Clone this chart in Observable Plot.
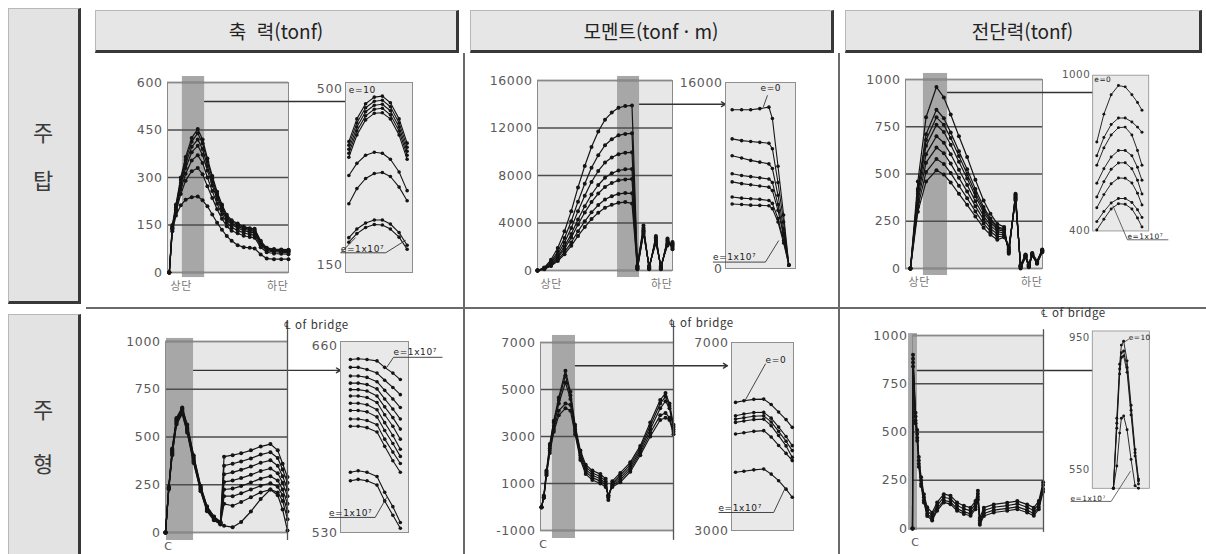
<!DOCTYPE html>
<html lang="ko">
<head>
<meta charset="utf-8">
<script src="https://cdn.jsdelivr.net/npm/d3@7"></script>
<script src="https://cdn.jsdelivr.net/npm/@observablehq/plot@0.6"></script>
<style>
html,body{margin:0;padding:0;background:#fff;}
#root{position:relative;width:1206px;height:554px;overflow:hidden;background:#fff;}
.abs{position:absolute;}
.hdr{position:absolute;top:10px;height:43px;box-sizing:border-box;background:#e6e6e6;border-top:1px solid #b8b8b8;border-left:1px solid #b8b8b8;border-right:3px solid #383838;border-bottom:3px solid #383838;font-family:"Noto Sans CJK KR",sans-serif;font-size:19px;color:#222;text-align:center;line-height:39px;white-space:pre;}
.row{position:absolute;left:8px;width:73px;box-sizing:border-box;background:#e3e3e3;border-top:1px solid #b8b8b8;border-left:1px solid #b8b8b8;border-right:3px solid #383838;border-bottom:3px solid #383838;}
.rl{position:absolute;left:8px;width:70px;text-align:center;font-family:"Noto Sans CJK KR",sans-serif;font-size:22px;color:#3a3a3a;line-height:24px;}
.sep{position:absolute;background:#6a6a6a;}
</style>
</head>
<body>
<div id="root">
  <div class="row" style="top:8px;height:296px;"></div>
  <div class="row" style="top:314px;height:260px;"></div>
  <div class="rl" style="top:119px;">주</div>
  <div class="rl" style="top:167px;">탑</div>
  <div class="rl" style="top:396px;">주</div>
  <div class="rl" style="top:450px;">형</div>
  <div class="hdr" style="left:95px;width:364px;">축  력(tonf)</div>
  <div class="hdr" style="left:470px;width:364px;">모멘트(tonf · m)</div>
  <div class="hdr" style="left:845px;width:357px;">전단력(tonf)</div>
  <div class="sep" style="left:463px;top:53px;width:1.5px;height:501px;"></div>
  <div class="sep" style="left:838px;top:53px;width:1.5px;height:501px;"></div>
  <div class="sep" style="left:86px;top:307px;width:1120px;height:1.5px;"></div>
</div>
<script>
// ======================= DATA =======================
// --- 주탑 / 축력 (tonf) ---
const towerAxialTicks = [0, 150, 300, 450, 600];
const towerAxialX = [1.5, 4, 7, 11, 15, 20, 25, 29, 33, 37, 41, 45, 49, 53, 58, 63, 68, 72, 77, 82, 88, 94, 100];
const towerAxialY = [
  [0, 150, 215, 300, 365, 425, 453, 420, 360, 305, 255, 215, 182, 165, 155, 145, 140, 138, 100, 78, 74, 73, 72],
  [0, 145, 210, 292, 355, 413, 440, 408, 350, 297, 248, 210, 178, 161, 151, 141, 136, 134, 97, 76, 72, 71, 70],
  [0, 142, 205, 283, 343, 397, 420, 390, 336, 286, 240, 203, 172, 156, 146, 137, 132, 130, 94, 74, 70, 69, 68],
  [0, 140, 200, 275, 330, 380, 400, 372, 322, 275, 231, 196, 166, 151, 141, 132, 127, 125, 91, 72, 68, 67, 66],
  [0, 138, 195, 263, 312, 354, 370, 346, 300, 257, 217, 184, 157, 142, 133, 125, 120, 118, 86, 69, 65, 64, 63],
  [0, 135, 190, 248, 290, 320, 330, 310, 272, 235, 200, 170, 146, 132, 124, 116, 112, 110, 80, 64, 60, 59, 58],
  [0, 130, 180, 212, 230, 238, 240, 228, 209, 183, 157, 135, 115, 100, 86, 80, 78, 76, 57, 44, 42, 42, 42]
];
const towerAxialZoomTicks = [150, 500];
const towerAxialZoomX = [5, 17, 30, 43, 55, 67, 80, 92];
const towerAxialZoomY = [
  [395, 440, 470, 483, 485, 472, 440, 392],
  [388, 432, 462, 475, 477, 464, 432, 384],
  [380, 424, 454, 467, 469, 456, 424, 376],
  [372, 416, 446, 459, 461, 448, 416, 368],
  [364, 408, 438, 451, 452, 440, 408, 360],
  [328, 352, 368, 374, 372, 360, 335, 298],
  [272, 302, 322, 332, 334, 326, 305, 278],
  [205, 222, 234, 240, 240, 232, 215, 190],
  [196, 213, 225, 231, 230, 222, 206, 182]
];

// --- 주탑 / 모멘트 (tonf·m) ---
const towerMomentTicks = [0, 4000, 8000, 12000, 16000];
const towerMomentX = [0, 5, 10, 15, 20, 25, 30, 35, 40, 45, 50, 55, 60, 65, 70, 74, 78.5, 82.7, 87.7, 91.4, 96.3, 100];
const towerMomentY = [
  [0, 250, 900, 1900, 3300, 5000, 7000, 8800, 10400, 11700, 12700, 13300, 13700, 13850, 13900, 400, 3800, 100, 2900, 100, 2700, 1800],
  [0, 210, 750, 1580, 2740, 4150, 5800, 7300, 8650, 9700, 10550, 11050, 11380, 11500, 11550, 350, 3600, 150, 2800, 150, 2600, 1900],
  [0, 180, 640, 1360, 2360, 3580, 5000, 6300, 7450, 8380, 9090, 9520, 9800, 9920, 9950, 300, 3500, 200, 2700, 200, 2500, 2000],
  [0, 155, 550, 1170, 2030, 3075, 4300, 5410, 6400, 7200, 7810, 8180, 8420, 8520, 8550, 250, 3400, 250, 2600, 250, 2400, 2100],
  [0, 140, 500, 1050, 1830, 2770, 3880, 4880, 5760, 6480, 7040, 7370, 7590, 7670, 7700, 200, 3300, 300, 2500, 300, 2300, 2200],
  [0, 120, 425, 895, 1555, 2355, 3300, 4145, 4900, 5510, 5980, 6260, 6450, 6520, 6500, 150, 3200, 350, 2400, 350, 2200, 2300],
  [0, 105, 375, 790, 1370, 2080, 2910, 3660, 4330, 4870, 5280, 5530, 5700, 5760, 5650, 100, 3100, 400, 2300, 400, 2100, 2400]
];
const towerMomentZoomTicks = [0, 16000];
const towerMomentZoomX = [9.5, 23, 36, 49, 62, 67, 75, 83, 90.5];
const towerMomentZoomY = [
  [13650, 13650, 13650, 13750, 13880, 12900, 8800, 4600, 300],
  [11150, 11000, 10920, 10850, 10780, 10300, 7400, 4000, 300],
  [9700, 9500, 9300, 9150, 9000, 8600, 6300, 3400, 300],
  [8150, 8000, 7900, 7800, 7700, 7400, 5500, 3000, 300],
  [7450, 7300, 7200, 7100, 7000, 6700, 5000, 2800, 300],
  [6150, 6050, 6000, 5950, 5850, 5600, 4300, 2400, 300],
  [5550, 5500, 5450, 5430, 5400, 5150, 4000, 2200, 300]
];

// --- 주탑 / 전단력 (tonf) ---
const towerShearTicks = [0, 250, 500, 750, 1000];
const towerShearX = [3.6, 9, 15, 22.6, 28, 33, 39, 45, 51, 57, 62, 67, 72, 75.4, 80.3, 84, 87.6, 90, 92.5, 96, 99.8];
const towerShearY = [
  [0, 460, 800, 960, 905, 815, 700, 590, 470, 360, 290, 236, 220, 78, 395, 0, 60, 7, 69, 25, 86],
  [0, 420, 710, 840, 795, 720, 620, 525, 420, 325, 265, 220, 210, 85, 390, 5, 62, 10, 70, 28, 88],
  [0, 410, 680, 800, 760, 690, 595, 500, 400, 312, 255, 214, 205, 90, 385, 8, 64, 12, 72, 30, 90],
  [0, 395, 650, 760, 722, 655, 565, 476, 382, 298, 244, 206, 198, 95, 380, 10, 66, 14, 74, 32, 92],
  [0, 375, 605, 700, 665, 605, 522, 442, 356, 278, 228, 195, 188, 100, 375, 12, 68, 16, 76, 34, 94],
  [0, 350, 560, 640, 610, 555, 480, 407, 330, 259, 212, 182, 180, 105, 370, 14, 70, 18, 78, 36, 96],
  [0, 325, 510, 580, 553, 505, 438, 372, 302, 238, 196, 168, 172, 110, 365, 16, 72, 20, 80, 38, 98],
  [0, 300, 460, 520, 497, 455, 395, 337, 275, 215, 178, 152, 166, 115, 360, 18, 74, 22, 82, 40, 100]
];
const towerShearZoomTicks = [400, 1000];
const towerShearZoomX = [7.4, 20, 33, 46, 58, 70, 80, 88];
const towerShearZoomY = [
  [743, 850, 925, 960, 955, 925, 895, 865],
  [690, 760, 810, 835, 835, 820, 800, 780],
  [653, 720, 770, 798, 800, 770, 710, 653],
  [584, 640, 685, 710, 710, 690, 645, 595],
  [531, 590, 638, 662, 663, 640, 595, 542],
  [489, 540, 582, 604, 603, 585, 545, 500],
  [436, 475, 508, 525, 525, 510, 482, 452],
  [404, 445, 485, 505, 503, 485, 450, 415]
];

// --- 주형 / 축력 (tonf) ---
const girderAxialTicks = [0, 250, 500, 750, 1000];
const girderAxialX = [0, 2.7, 5.5, 9, 13.7, 17.8, 23, 28.8, 34, 39.7, 45, 48, 55, 62, 70, 78, 86, 92, 96, 100];
const girderAxialY = [
  [0, 240, 440, 600, 655, 565, 405, 245, 138, 84, 56, 397, 405, 415, 430, 450, 463, 430, 360, 290],
  [0, 238, 435, 595, 650, 558, 400, 240, 135, 82, 54, 350, 360, 372, 388, 408, 420, 390, 330, 260],
  [0, 236, 430, 590, 645, 552, 394, 236, 131, 79, 52, 305, 315, 328, 345, 365, 378, 350, 295, 225],
  [0, 234, 425, 585, 640, 546, 388, 232, 127, 76, 50, 265, 272, 285, 302, 322, 335, 310, 260, 190],
  [0, 232, 420, 580, 635, 540, 382, 228, 123, 73, 48, 225, 230, 243, 262, 282, 295, 272, 225, 150],
  [0, 230, 415, 575, 630, 534, 376, 224, 119, 70, 46, 190, 190, 205, 225, 245, 258, 240, 195, 110],
  [0, 228, 410, 570, 625, 528, 370, 220, 115, 67, 44, 150, 140, 160, 185, 210, 225, 210, 165, 70],
  [0, 226, 405, 565, 620, 522, 364, 216, 111, 64, 42, 35, 28, 55, 110, 175, 225, 195, 120, 10]
];
const girderAxialZoomTicks = [530, 660];
const girderAxialZoomX = [14.6, 26, 39, 53.7, 65, 77, 88];
const girderAxialZoomY = [
  [650.5, 651, 650.5, 649.5, 645, 641, 636.5],
  [645, 645, 643.5, 641, 636, 631, 626],
  [639, 639, 638, 635, 629, 623, 617],
  [634, 634, 633, 630, 623, 616, 609],
  [629.5, 629.5, 628.5, 625, 617.5, 610, 602],
  [625, 625, 624, 620.5, 612, 604, 595],
  [620, 620, 619, 615.5, 606.5, 597.5, 588],
  [615, 615, 614, 610.5, 601, 592, 583],
  [609, 609, 608, 605, 595, 586, 578],
  [604, 604, 603, 600, 590, 580, 572],
  [572, 573, 572, 569, 558, 548, 537],
  [566, 567, 566, 563, 552, 542, 533]
];

// --- 주형 / 모멘트 (tonf·m) ---
const girderMomentTicks = [-1000, 1000, 3000, 5000, 7000];
const girderMomentX = [0.75, 2.5, 4.5, 7, 10, 13.75, 18.75, 22.5, 26, 30, 34, 39, 45, 49, 51, 54, 60, 67.5, 75, 82.5, 90, 94, 97, 100];
const girderMomentY = [
  [-9, 487, 1550, 2680, 3670, 4660, 5800, 4900, 3500, 2400, 1800, 1550, 1400, 1200, 300, 1100, 1450, 1900, 2600, 3600, 4550, 4850, 4400, 3500],
  [-9, 450, 1500, 2600, 3600, 4550, 5600, 4750, 3400, 2300, 1700, 1450, 1300, 1100, 400, 1000, 1350, 1800, 2500, 3450, 4400, 4700, 4300, 3400],
  [-9, 420, 1450, 2500, 3450, 4400, 5300, 4600, 3300, 2200, 1600, 1350, 1200, 1000, 450, 950, 1250, 1700, 2400, 3300, 4200, 4500, 4200, 3300],
  [-9, 400, 1400, 2400, 3300, 4100, 4400, 4350, 3200, 2100, 1500, 1250, 1100, 950, 500, 900, 1150, 1600, 2300, 3150, 3900, 4000, 3800, 3200],
  [-9, 380, 1350, 2300, 3200, 3900, 4200, 4100, 3100, 2000, 1400, 1150, 1000, 850, 500, 850, 1050, 1500, 2200, 3000, 3700, 3800, 3700, 3100]
];
const girderMomentZoomTicks = [3000, 7000];
const girderMomentZoomX = [6.5, 20, 36, 52, 64, 76, 88, 98];
const girderMomentZoomY = [
  [5726, 5760, 5790, 5796, 5680, 5520, 5360, 5195],
  [5440, 5480, 5510, 5513, 5390, 5200, 5000, 4805],
  [5370, 5400, 5430, 5440, 5310, 5110, 4900, 4700],
  [5300, 5330, 5360, 5370, 5230, 5020, 4800, 4560],
  [5053, 5080, 5110, 5124, 4990, 4810, 4640, 4487],
  [4239, 4260, 4290, 4310, 4200, 4060, 3880, 3708]
];

// --- 주형 / 전단력 (tonf) ---
const girderShearTicks = [0, 250, 500, 750, 1000];
const girderShearX = [0, 0.4, 2.3, 3.6, 4.8, 6.6, 8.7, 11.2, 15, 18.8, 23.9, 29, 34, 39.2, 44.3, 48.1, 49.9, 51.4, 54.5, 62, 72.3, 80, 87.5, 92.6, 96.4, 99.7];
const girderShearY = [
  [0, 900, 600, 510, 370, 265, 178, 110, 82, 135, 178, 170, 135, 118, 108, 142, 195, 55, 108, 125, 134, 142, 125, 108, 142, 240],
  [0, 880, 580, 490, 352, 249, 162, 93, 67, 119, 162, 154, 119, 102, 93, 128, 180, 41, 93, 110, 119, 128, 110, 93, 128, 225],
  [0, 860, 560, 470, 335, 232, 146, 77, 52, 103, 146, 138, 103, 86, 77, 112, 165, 28, 78, 95, 104, 112, 95, 78, 112, 205],
  [0, 840, 545, 455, 320, 220, 135, 65, 42, 92, 135, 126, 92, 75, 66, 100, 150, 20, 65, 83, 92, 100, 83, 66, 100, 190]
];
const girderShearZoomTicks = [550, 950];
const girderShearZoomX = [37, 43, 48, 51, 55, 61, 68, 75, 81];
const girderShearZoomY = [
  [492, 705, 870, 928, 940, 880, 745, 610, 520],
  [492, 690, 855, 905, 910, 860, 730, 600, 515],
  [492, 675, 840, 890, 895, 845, 715, 590, 505],
  [492, 560, 660, 705, 712, 670, 580, 500, 492]
];

// annotation texts
const endLabels = ["상단", "하단"];
const clLabel = "℄ of bridge";
const cLabel = "C";

// ======================= RENDER =======================
const root = document.getElementById("root");
const FONT = "'DejaVu Sans', 'Liberation Sans', sans-serif";
const KFONT = "'Noto Sans CJK KR', sans-serif";
const INK = "#141414";

function rows(xs, ys) { return ys.flatMap((s, k) => s.map((y, i) => ({x: xs[i], y, k}))); }
function mount(svg, left, top) {
  const d = document.createElement("div");
  d.className = "abs"; d.style.left = left + "px"; d.style.top = top + "px";
  d.append(svg); root.append(d);
}
const svgStyle = {fontFamily: FONT, fontSize: "12.5px", color: "#5a5a5a", overflow: "visible", background: "transparent", letterSpacing: "0.6px"};

function mainChart(L, D) {
  const [l, r, t, b] = L.frame;
  const ml = 72, mt = 44, mb = 30, mr = L.insetLeft - r;
  const xEnd = 100 + mr / (r - l) * 100;
  const data = rows(D.xs, D.ys);
  const marks = [
    Plot.frame({fill: "#e7e7e7"}),
    Plot.rect([D.band], {x1: d => d[0], x2: d => d[1], y1: () => L.bandY[0], y2: () => L.bandY[1], fill: "#a7a7a7"}),
    Plot.ruleY(D.ticks, {y: d => d, stroke: "#4d4d4d", strokeWidth: 1.3}),
    Plot.frame({stroke: "#8a8a8a"}),
    Plot.arrow([L.connY], {x1: () => D.band[1], x2: () => xEnd, y1: d => d, y2: d => d, stroke: "#333", strokeWidth: 1.4, headLength: L.head}),
    Plot.line(data, {x: "x", y: "y", z: "k", stroke: INK, strokeWidth: 1.2}),
    Plot.dot(data, {x: "x", y: "y", r: 2, fill: INK})
  ];
  if (L.ends) {
    marks.push(
      Plot.text([endLabels[0]], {text: d => d, frameAnchor: "bottom-left", textAnchor: "start", lineAnchor: "middle", dx: 3, dy: 14, fontFamily: KFONT, fontSize: 11, fill: "#777"}),
      Plot.text([endLabels[1]], {text: d => d, frameAnchor: "bottom-right", textAnchor: "end", lineAnchor: "middle", dx: 0, dy: 14, fontFamily: KFONT, fontSize: 11, fill: "#777"})
    );
  }
  if (L.cl) {
    marks.push(
      Plot.ruleX([100], {x: d => d, y1: () => L.cl[0], y2: () => L.cl[1], stroke: "#555", strokeWidth: 1.3}),
      Plot.text([clLabel], {text: d => d, frameAnchor: "top-right", textAnchor: "start", lineAnchor: "middle", dx: L.clPos[0], dy: L.clPos[1], fontFamily: KFONT, fontSize: 11.5, fill: "#333"}),
      Plot.text([cLabel], {text: d => d, frameAnchor: "bottom-left", textAnchor: "middle", lineAnchor: "middle", dx: 3, dy: 14, fontSize: 11, fill: "#555"})
    );
  }
  const svg = Plot.plot({
    width: ml + (r - l) + mr, height: mt + (b - t) + mb,
    marginLeft: ml, marginRight: mr, marginTop: mt, marginBottom: mb,
    x: {domain: [0, 100], axis: null},
    y: {domain: D.domain, ticks: D.ticks, tickSize: 0, tickPadding: 5, tickFormat: d => String(d), label: null},
    style: svgStyle,
    marks
  });
  mount(svg, l - ml, t - mt);
}

function insetChart(L, D) {
  const [l, r, t, b] = L.frame;
  const ml = 44, mr = 70, mt = 24, mb = 24;
  const data = rows(D.xs, D.ys);
  const marks = [
    Plot.frame({fill: "#e9e9e9"}),
    Plot.frame({stroke: "#8f8f8f"}),
    Plot.line(data, {x: "x", y: "y", z: "k", stroke: INK, strokeWidth: 1.1}),
    Plot.dot(data, {x: "x", y: "y", r: 1.8, fill: INK}),
    Plot.link(L.leaders, {x1: d => d[0], y1: d => d[1], x2: d => d[2], y2: d => d[3], stroke: "#333", strokeWidth: 0.9}),
    Plot.text(L.notes, {x: d => d.x, y: d => d.y, text: d => d.t, textAnchor: "start", lineAnchor: "middle", fontSize: 9, fill: "#222", letterSpacing: "0px"})
  ];
  const svg = Plot.plot({
    width: ml + (r - l) + mr, height: mt + (b - t) + mb,
    marginLeft: ml, marginRight: mr, marginTop: mt, marginBottom: mb,
    x: {domain: [0, 100], axis: null},
    y: {domain: D.domain, ticks: D.ticks, tickSize: 0, tickPadding: 3, tickFormat: d => String(d), label: null},
    style: svgStyle,
    marks
  });
  mount(svg, l - ml, t - mt);
}

// ---- 주탑 ----
mainChart(
  {frame: [167, 288, 82, 272], insetLeft: 345, bandY: [-16, 619], connY: 540, head: 0, ends: true},
  {xs: towerAxialX, ys: towerAxialY, domain: [0, 600], ticks: towerAxialTicks, band: [12.3, 30.7]}
);
insetChart(
  {frame: [345, 412, 82, 272],
   notes: [{t: "e=10", x: 5, y: 496}, {t: "e=1x10⁷", x: -7, y: 182}],
   leaders: [[-7, 175, 60, 175], [60, 175, 90, 200], [-7, 175, 15, 205]]},
  {xs: towerAxialZoomX, ys: towerAxialZoomY, domain: [136, 512], ticks: towerAxialZoomTicks}
);

mainChart(
  {frame: [537, 672, 80, 270], insetLeft: 725, bandY: [-590, 16340], connY: 14000, head: 5, ends: true},
  {xs: towerMomentX, ys: towerMomentY, domain: [0, 16000], ticks: towerMomentTicks, band: [59.3, 75.6]}
);
insetChart(
  {frame: [725, 795, 82, 268],
   notes: [{t: "e=0", x: 50, y: 15480}, {t: "e=1x10⁷", x: -18, y: 1000}],
   leaders: [[60, 14900, 54, 13900], [-18, 550, 57, 550], [57, 550, 76, 2400]]},
  {xs: towerMomentZoomX, ys: towerMomentZoomY, domain: [0, 16000], ticks: towerMomentZoomTicks}
);

mainChart(
  {frame: [905, 1042, 79, 268], insetLeft: 1100, bandY: [-37, 1032], connY: 931, head: 5, ends: true},
  {xs: towerShearX, ys: towerShearY, domain: [0, 1000], ticks: towerShearTicks, band: [13.1, 30.7]}
);
insetChart(
  {frame: [1100, 1168, 79, 268],
   notes: [{t: "e=0", x: 3, y: 984}, {t: "e=1x10⁷", x: 62, y: 378}],
   leaders: [[62, 366, 135, 366], [62, 366, 36, 498]]},
  {xs: towerShearZoomX, ys: towerShearZoomY, domain: [400, 1000], ticks: towerShearZoomTicks}
);

// ---- 주형 ----
mainChart(
  {frame: [165, 287, 341, 532], insetLeft: 340, bandY: [-42, 1016], connY: 849, head: 5, cl: [-42, 1110], clPos: [-4, -16]},
  {xs: girderAxialX, ys: girderAxialY, domain: [0, 1000], ticks: girderAxialTicks, band: [0.8, 23]}
);
insetChart(
  {frame: [340, 408, 341, 532],
   notes: [{t: "e=1x10⁷", x: 78, y: 655.5}, {t: "e=1x10⁷", x: -17, y: 543.5}],
   leaders: [[78, 652, 150, 652], [78, 652, 68, 645], [-17, 540.5, 51, 540.5], [51, 540.5, 68, 554.5]]},
  {xs: girderAxialZoomX, ys: girderAxialZoomY, domain: [530, 663], ticks: girderAxialZoomTicks}
);

mainChart(
  {frame: [540, 673, 342, 530], insetLeft: 727, bandY: [-1340, 7300], connY: 6010, head: 5, cl: [-1420, 7900], clPos: [-5, -19]},
  {xs: girderMomentX, ys: girderMomentY, domain: [-1000, 7000], ticks: girderMomentTicks, band: [9, 26.3]}
);
insetChart(
  {frame: [731, 793, 342, 530],
   notes: [{t: "e=0", x: 55, y: 6617}, {t: "e=1x10⁷", x: -21, y: 3468}],
   leaders: [[55, 6550, 22, 5770], [-21, 3383, 68, 3383], [68, 3383, 87, 3915]]},
  {xs: girderMomentZoomX, ys: girderMomentZoomY, domain: [3000, 7000], ticks: girderMomentZoomTicks}
);

mainChart(
  {frame: [912, 1043, 335, 528], insetLeft: 1100, bandY: [-10, 1010], connY: 819, head: 0, cl: [-20, 1030], clPos: [-3, -22]},
  {xs: girderShearX, ys: girderShearY, domain: [0, 1000], ticks: girderShearTicks, band: [-3, 3.8]}
);
insetChart(
  {frame: [1100, 1170, 335, 528],
   notes: [{t: "e=10", x: 64, y: 951}, {t: "e=1x10⁷", x: -38, y: 462}],
   leaders: [[64, 946, 53, 934], [-38, 452, 33, 452], [33, 452, 67, 544]]},
  {xs: girderShearZoomX, ys: girderShearZoomY, domain: [492, 971], ticks: girderShearZoomTicks}
);
</script>
</body>
</html>
